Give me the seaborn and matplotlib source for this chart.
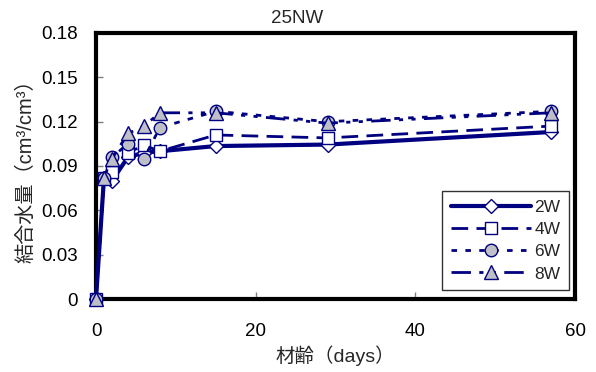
import matplotlib
matplotlib.use("Agg")
import matplotlib.pyplot as plt
import seaborn as sns
import pandas as pd

days = [0, 1, 2, 4, 6, 8, 15, 29, 57]
w2 = [0, 0.082, 0.080, 0.096, 0.099, 0.100, 0.1035, 0.1045, 0.113]
w4 = [0, 0.082, 0.086, 0.099, 0.104, 0.100, 0.111, 0.109, 0.117]
w6 = [0, 0.082, 0.096, 0.105, 0.095, 0.116, 0.127, 0.120, 0.127]
w8 = [0, 0.082, 0.095, 0.112, 0.117, 0.126, 0.126, 0.119, 0.126]
series_names = ["2W", "4W", "6W", "8W"]
yticks = [0, 0.03, 0.06, 0.09, 0.12, 0.15, 0.18]
ytick_labels = ["0", "0.03", "0.06", "0.09", "0.12", "0.15", "0.18"]
xticks = [0, 20, 40, 60]

sns.set_theme(style="white")
plt.rcParams['font.family'] = ['Liberation Sans', 'Noto Sans CJK JP', 'DejaVu Sans']

fig = plt.figure(figsize=(5.96, 3.72), dpi=100)
ax = fig.add_axes([96/596, 1 - 299/372, 479/596, 266/372])

navy = "#000080"
gray = "#bfbfc8"
styles = [
    dict(lw=3.0, ls="-", marker="D", mfc="white", ms=7),
    dict(lw=2.0, ls=(0, (6, 3)), marker="s", mfc="white", ms=9),
    dict(lw=2.0, ls=(0, (2, 3)), marker="o", mfc=gray, ms=9),
    dict(lw=2.0, ls=(0, (7, 3, 1.5, 3, 1.5, 3)), marker="^", mfc=gray, ms=10),
]
data = [w2, w4, w6, w8]
for name, vals, st in zip(series_names, data, styles):
    df = pd.DataFrame({"days": days, "v": vals})
    sns.lineplot(data=df, x="days", y="v", ax=ax, color=navy, linewidth=st["lw"],
                 linestyle=st["ls"], marker=st["marker"], markersize=st["ms"],
                 markerfacecolor=st["mfc"], markeredgecolor=navy, markeredgewidth=1.0,
                 label=name, clip_on=False, zorder=3)

ax.set_xlim(0, 60)
ax.set_ylim(0, 0.18)
ax.set_xticks(xticks)
ax.set_yticks(yticks)
ax.set_yticklabels(ytick_labels)
ax.tick_params(direction="in", length=5, width=1, colors="#808080", labelcolor="black",
               labelsize=13.5, left=True, bottom=True)
ax.tick_params(axis="y", pad=13)
ax.tick_params(axis="x", pad=17)
for s in ax.spines.values():
    s.set_linewidth(3)
    s.set_color("black")

ax.set_title("25NW", fontsize=13.5, x=0.42, pad=7)
ax.set_xlabel("材齢（days）", fontsize=14, labelpad=4)
ax.set_ylabel("結合水量（cm³/cm³）", fontsize=14.5, labelpad=4)

leg = ax.legend(loc="lower right", bbox_to_anchor=(0.995, 0.02), fontsize=12.5,
                frameon=True, fancybox=False, handlelength=4.6, borderpad=0.5,
                labelspacing=0.4, handletextpad=0.2, borderaxespad=0.2)
leg.get_frame().set_edgecolor("black")
leg.get_frame().set_linewidth(1)

fig.savefig("out.png", dpi=100)
